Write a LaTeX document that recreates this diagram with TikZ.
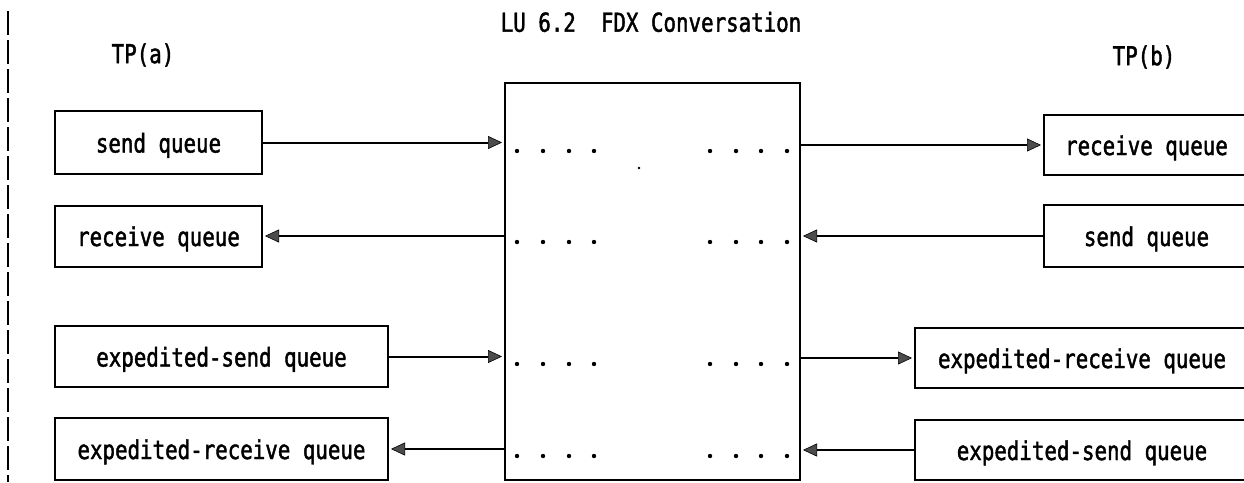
\documentclass[tikz,border=0pt]{standalone}
\usepackage{fontspec}
\newfontfamily\diafont[FakeStretch=0.8,FakeBold=1.6]{DejaVu Sans Mono}
\usetikzlibrary{arrows.meta}
\begin{document}
\begin{tikzpicture}[x=1pt,y=-1pt,
  txt/.style={font=\diafont\fontsize{26}{31}\selectfont},
  qbox/.style={draw,line width=2pt,inner sep=0pt,text height=20pt,text depth=0pt,txt},
  lbl/.style={inner sep=0pt,txt},
  flow/.style={line width=2pt,shorten >=2pt,-{Triangle[length=14pt,width=13pt,fill=black!70,line width=0.6pt]}},
  dotmark/.style={fill=black}]
\useasboundingbox (0,0) rectangle (1244,482);
\clip (0,0) rectangle (1244,482);
% side separator
\draw[line width=1.8pt,dash pattern=on 24pt off 5pt] (8,11) -- (8,482);
% titles
\node[lbl] (title) at (651,22) {LU 6.2\ \ FDX Conversation};
\node[lbl] (tpa) at (143,55) {TP(a)};
\node[lbl] (tpb) at (1144,57) {TP(b)};
% conversation box
\node[qbox,minimum width=295pt,minimum height=397pt] (C) at (652.5,281.5) {};
% left queues
\node[qbox,minimum width=207pt,minimum height=63pt] (sendA) at (158.5,142.5) {send queue};
\node[qbox,minimum width=207pt,minimum height=61pt] (recvA) at (158.5,236) {receive queue};
\node[qbox,minimum width=333pt,minimum height=61pt] (xsendA) at (221.5,356.5) {expedited-send queue};
\node[qbox,minimum width=333pt,minimum height=62pt] (xrecvA) at (221.5,449) {expedited-receive queue};
% right queues
\node[qbox,minimum width=205pt,minimum height=60pt] (recvB) at (1146.5,145) {receive queue};
\node[qbox,minimum width=205pt,minimum height=62pt] (sendB) at (1146.5,236) {send queue};
\node[qbox,minimum width=334pt,minimum height=60pt] (xrecvB) at (1082,358) {expedited-receive queue};
\node[qbox,minimum width=334pt,minimum height=60pt] (xsendB) at (1082,450) {expedited-send queue};
% flows
\draw[flow] (sendA.east) -- (sendA.east -| C.west);
\draw[flow] (C.west |- recvA.east) -- (recvA.east);
\draw[flow] (xsendA.east) -- (xsendA.east -| C.west);
\draw[flow] (C.west |- xrecvA.east) -- (xrecvA.east);
\draw[flow] (C.east |- recvB.west) -- (recvB.west);
\draw[flow] (sendB.west) -- (sendB.west -| C.east);
\draw[flow] (C.east |- xrecvB.west) -- (xrecvB.west);
\draw[flow] (xsendB.west) -- (xsendB.west -| C.east);
% dots
\foreach \yy in {151,242,364,456}{
  \foreach \xx in {517,543,569,594,710,736,761,787}{
    \fill[dotmark] (\xx,\yy) circle (2.2pt);
  }
}
\fill[dotmark] (639,168) circle (1.4pt);
\end{tikzpicture}
\end{document}
